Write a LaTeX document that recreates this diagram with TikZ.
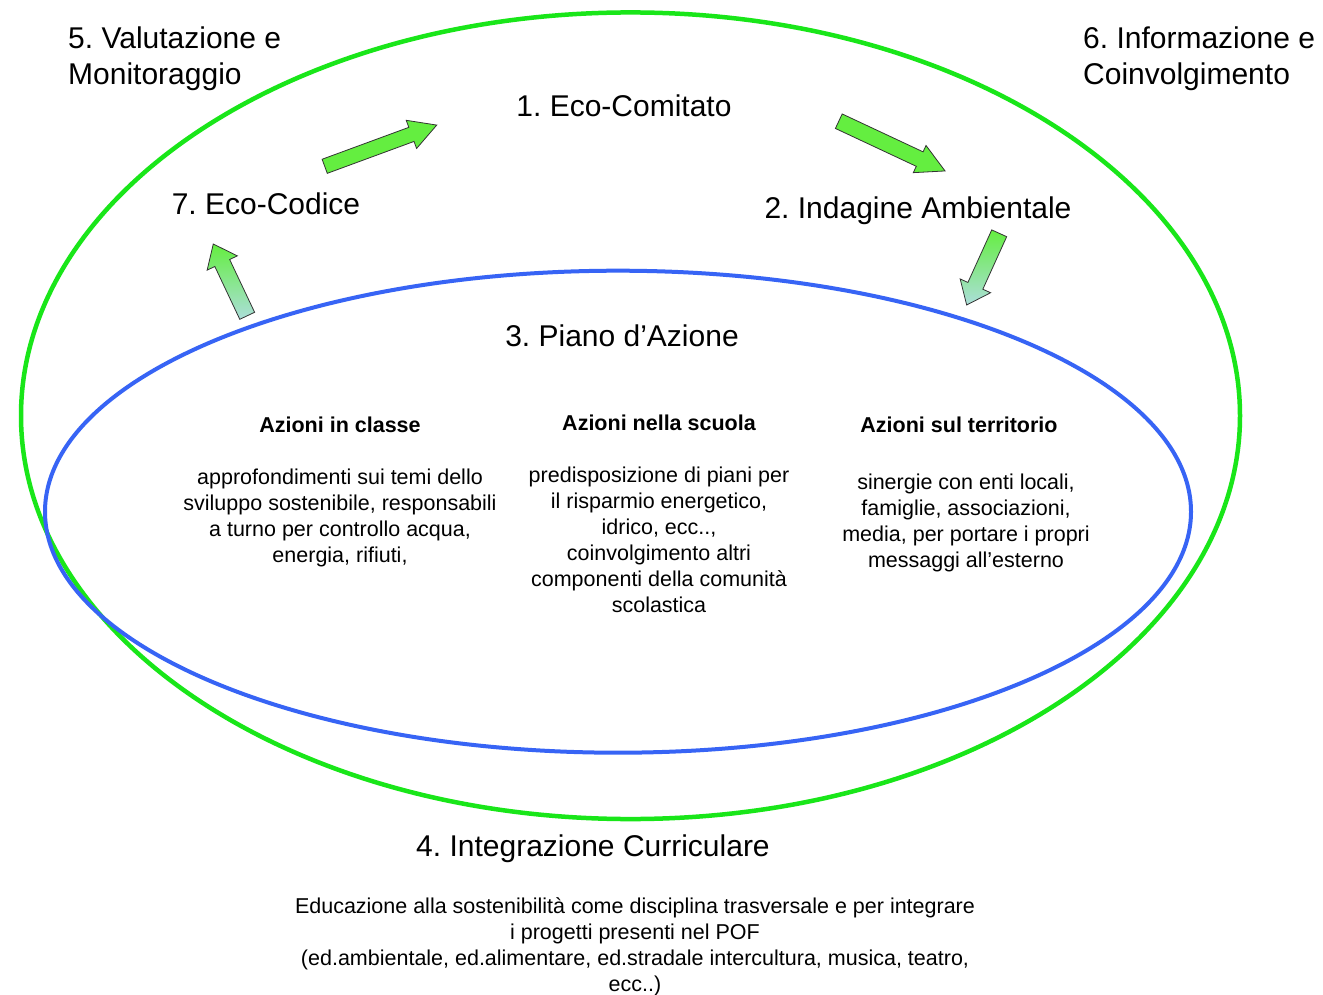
\documentclass[tikz,border=0pt]{standalone}
\usepackage{fontspec}
\setmainfont{Liberation Sans}
\frenchspacing
\definecolor{ellgreen}{RGB}{25,230,25}
\definecolor{ellblue}{RGB}{55,100,245}
\definecolor{arrgreen}{RGB}{100,238,64}
\definecolor{arrpale}{RGB}{172,222,218}
% #1 tail, #2 angle, #3 length, #4 head length, #5 half head width, #6 half shaft width, #7 style
\newcommand{\blockarrow}[7]{%
  \path[#7, shift={#1}, rotate=#2] (0,-#6) -- ({#3-#4},-#6) -- ({#3-#4},-#5) -- (#3,0)
    -- ({#3-#4},#5) -- ({#3-#4},#6) -- (0,#6) -- cycle;}
\begin{document}
\begin{tikzpicture}[x=1pt,y=-1pt,
  big/.style={font=\fontsize{30}{36}\selectfont\frenchspacing, inner sep=0pt},
  small/.style={font=\fontsize{21.5}{26}\selectfont\frenchspacing, inner sep=0pt, align=center},
  head/.style={font=\fontsize{21.5}{26}\selectfont\bfseries, inner sep=0pt},
  arrowline/.style={draw=black!80, line width=0.8pt, line join=miter}]
\useasboundingbox (0,0) rectangle (1323,995);
\fill[white] (0,0) rectangle (1323,995);

\draw[ellgreen, line width=4.5pt] (630.5,415.75) ellipse [x radius=609.5pt, y radius=403.3pt];
\draw[ellblue, line width=4pt] (618,511.7) ellipse [x radius=573pt, y radius=241pt];

\node[big, anchor=north west, align=left] (valut) at (68,27) {5. Valutazione e\\Monitoraggio};
\node[big, anchor=north west, align=left] (info) at (1083,27) {6. Informazione e\\Coinvolgimento};
\node[big, anchor=base] (eco1) at (624,117) {1. Eco-Comitato};
\node[big, anchor=base] (eco2) at (918,218.5) {2. Indagine Ambientale};
\node[big, anchor=base] (piano) at (622,346) {3. Piano d’Azione};
\node[big, anchor=base] (integr) at (593,856) {4. Integrazione Curriculare};
\node[big, anchor=base] (eco7) at (266,215) {7. Eco-Codice};

\node[head, anchor=base] (h1) at (340,432) {Azioni in classe};
\node[head, anchor=base] (h2) at (659,430) {Azioni nella scuola};
\node[head, anchor=base] (h3) at (959,432) {Azioni sul territorio};

\node[small, anchor=north] (t1) at (340,469) {approfondimenti sui temi dello\\sviluppo sostenibile, responsabili\\a turno per controllo acqua,\\energia, rifiuti,};
\node[small, anchor=north] (t2) at (659,467) {predisposizione di piani per\\il risparmio energetico,\\idrico, ecc..,\\coinvolgimento altri\\componenti della comunità\\scolastica};
\node[small, anchor=north] (t3) at (966,474) {sinergie con enti locali,\\famiglie, associazioni,\\media, per portare i propri\\messaggi all’esterno};
\node[small, anchor=north] (t4) at (635,897) {Educazione alla sostenibilità come disciplina trasversale e per integrare\\i progetti presenti nel POF\\(ed.ambientale, ed.alimentare, ed.stradale intercultura, musica, teatro,\\ecc..)};

\blockarrow{(324.7,166.3)}{20.2}{119.4}{27}{15}{7.5}{arrowline, fill=arrgreen}
\blockarrow{(838.8,121.2)}{-25.1}{117.3}{28}{15}{8}{arrowline, fill=arrgreen}
\blockarrow{(999.2,233.3)}{-114.4}{78.7}{21}{16.7}{8.2}{arrowline, top color=arrgreen, bottom color=arrpale}
\blockarrow{(247.2,315.8)}{115.3}{79.4}{21}{16.7}{8.2}{arrowline, top color=arrgreen, bottom color=arrpale}
\end{tikzpicture}
\end{document}
